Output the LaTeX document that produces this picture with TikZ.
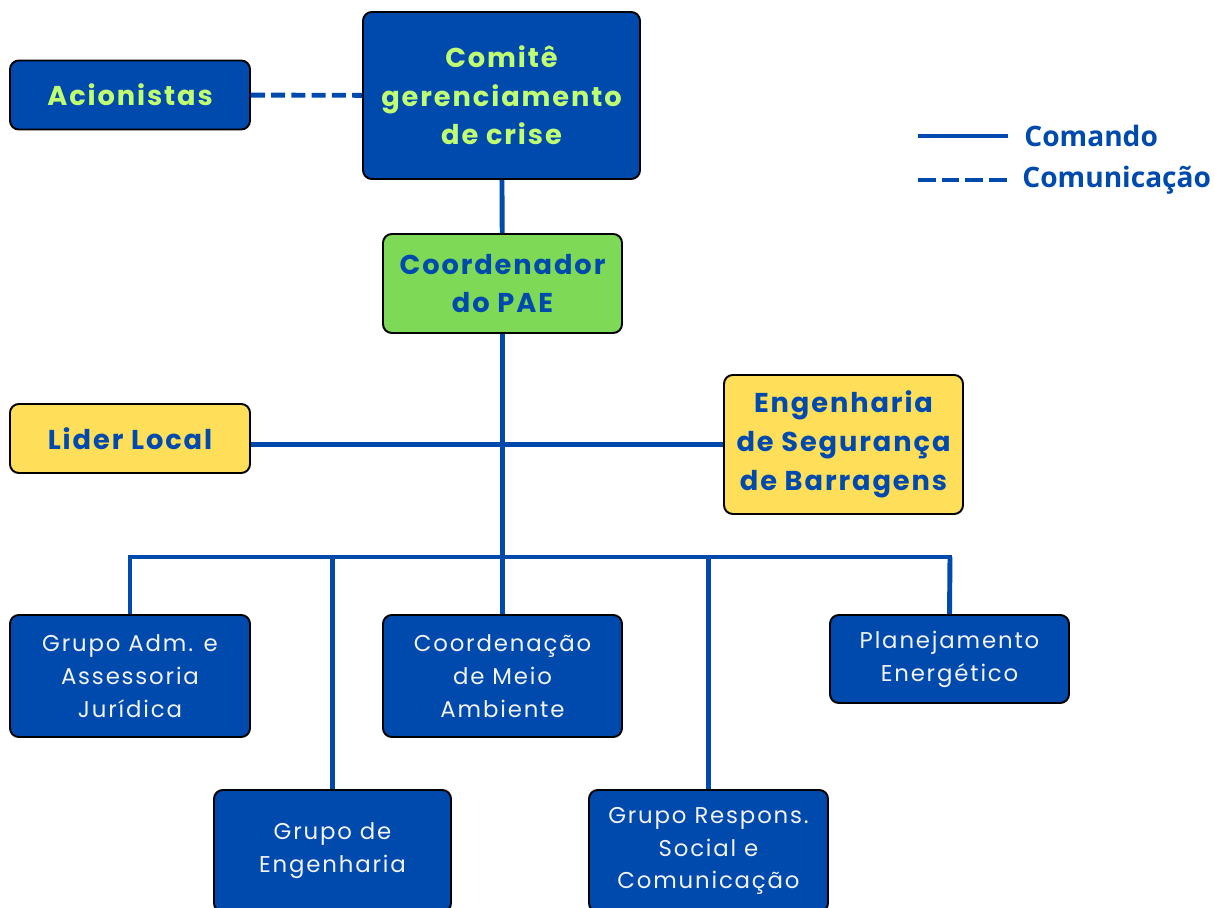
\documentclass[tikz,border=0pt]{standalone}
\usepackage{fontspec}
\setmainfont{Poppins}
\newfontfamily\headfont[LetterSpace=7]{Poppins}
\newfontfamily\unitfont[LetterSpace=8]{Poppins}
\newfontfamily\legfont{Open Sans}
\definecolor{cblue}{HTML}{004AAD}
\definecolor{clime}{HTML}{C1FF72}
\definecolor{cgreen}{HTML}{7ED957}
\definecolor{cyellow}{HTML}{FFDE59}
\definecolor{cpale}{HTML}{F2F2F2}

\begin{document}
\begin{tikzpicture}[
    box/.style={draw=black, line width=1.1pt, rounded corners=5pt, inner sep=0pt, align=center},
    headbox/.style={box, font=\headfont\bfseries\fontsize{15.5}{22}\selectfont},
    unitbox/.style={box, fill=cblue, text=cpale, minimum width=4.78cm, minimum height=2.44cm,
        font=\unitfont\fontsize{13}{18.7}\selectfont},
    link/.style={draw=cblue, line width=2.8pt},
    talk/.style={link, dash pattern=on 8pt off 3.5pt},
    legtext/.style={anchor=west, text=cblue, inner sep=0pt, font=\legfont\bfseries\fontsize{16}{18}\selectfont}
]
\useasboundingbox (0,0) rectangle (24.28,18.16);
\clip (0,0) rectangle (24.28,18.16);

\node[headbox, fill=cblue, text=clime, minimum width=4.8cm, minimum height=1.38cm] (acion) at (2.6,16.26) {Acionistas};
\node[headbox, fill=cblue, text=clime, minimum width=5.54cm, minimum height=3.34cm] (comite) at (10.03,16.25) {Comitê\\gerenciamento\\de crise};
\node[headbox, fill=cgreen, text=cblue, minimum width=4.78cm, minimum height=1.98cm] (pae) at (10.05,12.49) {Coordenador\\do PAE};
\node[headbox, fill=cyellow, text=cblue, minimum width=4.8cm, minimum height=1.38cm] (lider) at (2.6,9.39) {Lider Local};
\node[headbox, fill=cyellow, text=cblue, minimum width=4.78cm, minimum height=2.78cm] (engseg) at (16.87,9.27) {Engenharia\\de Segurança\\de Barragens};

\node[unitbox, minimum width=4.8cm] (grpadm) at (2.6,4.64) {Grupo Adm. e\\Assessoria\\Jurídica};
\node[unitbox] (meioamb) at (10.05,4.64) {Coordenação\\de Meio\\Ambiente};
\node[unitbox, minimum height=1.76cm] (planej) at (18.99,4.98) {Planejamento\\Energético};
\node[unitbox, minimum width=4.74cm] (grpeng) at (6.65,1.14) {Grupo de\\Engenharia};
\node[unitbox] (grpresp) at (14.17,1.14) {Grupo Respons.\\Social e\\Comunicação};

\coordinate (busW) at (2.6,7.02);
\coordinate (busE) at (19.0,7.02);

\draw[talk] (acion) -- (comite);
\draw[link] (comite) -- (pae);
\draw[link] (pae) -- (meioamb);
\draw[link] (lider.east |- engseg.west) -- (engseg.west);
\draw[link, line cap=rect] (busW) -- (busE);
\draw[link] (busW) -- (grpadm.north);
\draw[link] (grpeng.north |- busW) -- (grpeng.north);
\draw[link] (grpresp.north |- busW) -- (grpresp.north);
\draw[link] (busE) -- (planej.north);

% legenda
\coordinate (cmdA) at (18.36,15.44);
\coordinate (cmdB) at (20.16,15.44);
\coordinate (comA) at (18.36,14.56);
\coordinate (comB) at (20.16,14.56);
\draw[link] (cmdA) -- (cmdB);
\draw[link, dash pattern=on 10pt off 3.5pt] (comA) -- (comB);
\node[legtext] (cmd) at (20.48,15.44) {Comando};
\node[legtext] (com) at (20.44,14.56) {Comunicação};
\end{tikzpicture}
\end{document}
